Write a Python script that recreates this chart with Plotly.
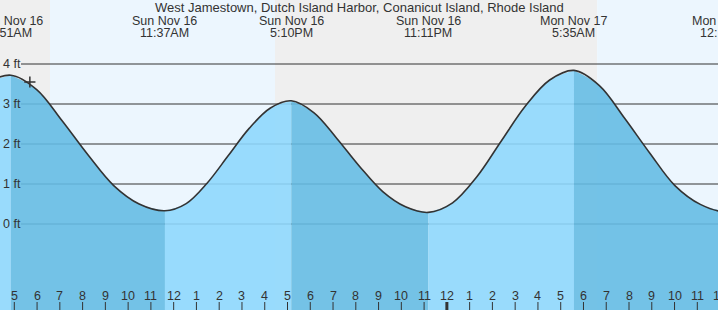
import pandas as pd
import plotly.graph_objects as go

# ---------------- data ----------------
title = "West Jamestown, Dutch Island Harbor, Conanicut Island, Rhode Island"

extreme_times = ["2025-11-16 04:51", "2025-11-16 11:37", "2025-11-16 17:10",
                 "2025-11-16 23:11", "2025-11-17 05:35", "2025-11-17 12:14"]
extreme_heights = [3.72, 0.33, 3.08, 0.29, 3.84, 0.31]
extreme_kinds = ["H", "L", "H", "L", "H", "L"]

# heights
reading_times = [
    "2025-11-16 02:40", "2025-11-16 03:43",
    "2025-11-16 05:59", "2025-11-16 07:06", "2025-11-16 08:14", "2025-11-16 09:22", "2025-11-16 10:29",
    "2025-11-16 12:33", "2025-11-16 13:28", "2025-11-16 14:24", "2025-11-16 15:19", "2025-11-16 16:15",
    "2025-11-16 18:10", "2025-11-16 19:10", "2025-11-16 20:10", "2025-11-16 21:11", "2025-11-16 22:11",
    "2025-11-17 00:15", "2025-11-17 01:19", "2025-11-17 02:23", "2025-11-17 03:27", "2025-11-17 04:31",
    "2025-11-17 06:42", "2025-11-17 07:48", "2025-11-17 08:55", "2025-11-17 10:01", "2025-11-17 11:08",
    "2025-11-17 13:20",
]
reading_heights = [
    2.87, 3.49,
    3.36, 2.58, 1.73, 0.96, 0.50,
    0.51, 1.02, 1.71, 2.39, 2.90,
    2.78, 2.14, 1.44, 0.81, 0.43,
    0.53, 1.18, 2.07, 2.95, 3.60,
    3.46, 2.65, 1.77, 0.96, 0.49,
    0.54,
]

sunrise_times = ["2025-11-16 06:34", "2025-11-17 06:36"]
sunset_times = ["2025-11-16 16:27"]

now_time = "2025-11-16 05:41"
now_height = 3.55

y_grid = [0, 1, 2, 3, 4]
y_grid_labels = ["0 ft", "1 ft", "2 ft", "3 ft", "4 ft"]

tick_hours = pd.date_range("2025-11-16 05:00", "2025-11-17 12:00", freq="h")
tick_labels = [str(int(t.strftime("%I"))) for t in tick_hours]

view_start = pd.Timestamp("2025-11-16 04:22:19")
view_end = pd.Timestamp("2025-11-17 11:54:32")

# ---------------- styling ----------------
W, H = 718, 310
TXT = "#333333"
FONT = "Liberation Sans, Arial, sans-serif"
NIGHT_BG = "#efefef"
DAY_BG = "#ecf6fe"
FALL_FILL = "rgba(100,188,228,0.89)"
RISE_FILL = "rgba(141,216,253,0.89)"
Y_MIN, Y_MAX = -2.15, 5.6


def py(px):
    """pixel from top -> paper y"""
    return 1 - px / H


def xp(t):
    """time -> paper x (so labels at the edges are still drawn, partly cut)"""
    t = pd.Timestamp(t)
    return (t - view_start) / (view_end - view_start)


curve = pd.DataFrame({
    "t": [pd.Timestamp(t) for t in reading_times] + [pd.Timestamp(t) for t in extreme_times],
    "h": list(reading_heights) + list(extreme_heights),
}).sort_values("t").reset_index(drop=True)

fig = go.Figure()

# fill segments split at extremes, darker while falling
bounds = [curve["t"].iloc[0]] + [pd.Timestamp(t) for t in extreme_times] + [curve["t"].iloc[-1]]
kinds = ["L"] + extreme_kinds
for i in range(len(bounds) - 1):
    a, b = bounds[i], bounds[i + 1]
    if a >= b:
        continue
    seg = curve[(curve["t"] >= a) & (curve["t"] <= b)]
    falling = kinds[i] == "H"
    fig.add_trace(go.Scatter(x=seg["t"], y=[Y_MIN - 1] * len(seg), mode="lines",
                             line=dict(width=0), hoverinfo="skip", showlegend=False))
    fig.add_trace(go.Scatter(x=seg["t"], y=seg["h"], mode="lines",
                             line=dict(width=0, shape="spline"), fill="tonexty",
                             fillcolor=FALL_FILL if falling else RISE_FILL,
                             hoverinfo="skip", showlegend=False))

# outline
fig.add_trace(go.Scatter(x=curve["t"], y=curve["h"], mode="lines",
                         line=dict(color=TXT, width=1.6, shape="spline"),
                         showlegend=False))

# current time marker
fig.add_trace(go.Scatter(x=[now_time], y=[now_height], mode="markers",
                         marker=dict(symbol="cross-thin", size=8,
                                     line=dict(color=TXT, width=1.5)),
                         showlegend=False))

shapes = []
edges = [view_start - pd.Timedelta(hours=1), pd.Timestamp(sunrise_times[0]),
         pd.Timestamp(sunset_times[0]), pd.Timestamp(sunrise_times[1]),
         view_end + pd.Timedelta(hours=1)]
cols = [NIGHT_BG, DAY_BG, NIGHT_BG, DAY_BG]
for i in range(4):
    shapes.append(dict(type="rect", xref="x", yref="paper", x0=edges[i], x1=edges[i + 1],
                       y0=0, y1=1, fillcolor=cols[i], line=dict(width=0), layer="below"))
for g in y_grid:
    shapes.append(dict(type="line", xref="paper", yref="y", x0=21 / W, x1=1, y0=g, y1=g,
                       line=dict(color=TXT, width=1), layer="below"))
for t in tick_hours:
    shapes.append(dict(type="line", xref="x", yref="paper", x0=t, x1=t, y0=0, y1=8 / H,
                       line=dict(color=TXT, width=3 if t.hour == 0 else 1)))

annotations = []
annotations.append(dict(text=title, xref="paper", yref="paper", x=0.5, y=py(8),
                        xanchor="center", yanchor="middle", showarrow=False,
                        font=dict(size=13, color=TXT, family=FONT)))
for t in extreme_times:
    ts = pd.Timestamp(t)
    l1 = ts.strftime("%a %b ") + str(ts.day)
    l2 = str(int(ts.strftime("%I"))) + ts.strftime(":%M%p")
    for txt, ypx in ((l1, 20.5), (l2, 33)):
        annotations.append(dict(text=txt, xref="paper", yref="paper", x=xp(ts), y=py(ypx),
                                xanchor="center", yanchor="middle", showarrow=False,
                                font=dict(size=12.5, color=TXT, family=FONT)))
for g, lab in zip(y_grid, y_grid_labels):
    annotations.append(dict(text=lab, xref="paper", yref="y", x=1 / W, y=g,
                            xanchor="left", yanchor="middle", showarrow=False,
                            font=dict(size=12.5, color=TXT, family=FONT)))
for t, lab in zip(tick_hours, tick_labels):
    annotations.append(dict(text=lab, xref="paper", yref="paper", x=xp(t), y=py(295.5),
                            xanchor="center", yanchor="middle", showarrow=False,
                            font=dict(size=12.5, color=TXT, family=FONT)))

fig.update_layout(
    width=W, height=H, margin=dict(l=0, r=0, t=0, b=0),
    paper_bgcolor="white", plot_bgcolor="white",
    xaxis=dict(range=[view_start, view_end], visible=False, fixedrange=True),
    yaxis=dict(range=[Y_MIN, Y_MAX], visible=False, fixedrange=True),
    shapes=shapes, annotations=annotations, showlegend=False,
)

fig.write_html("out.html", config={"displayModeBar": False})
